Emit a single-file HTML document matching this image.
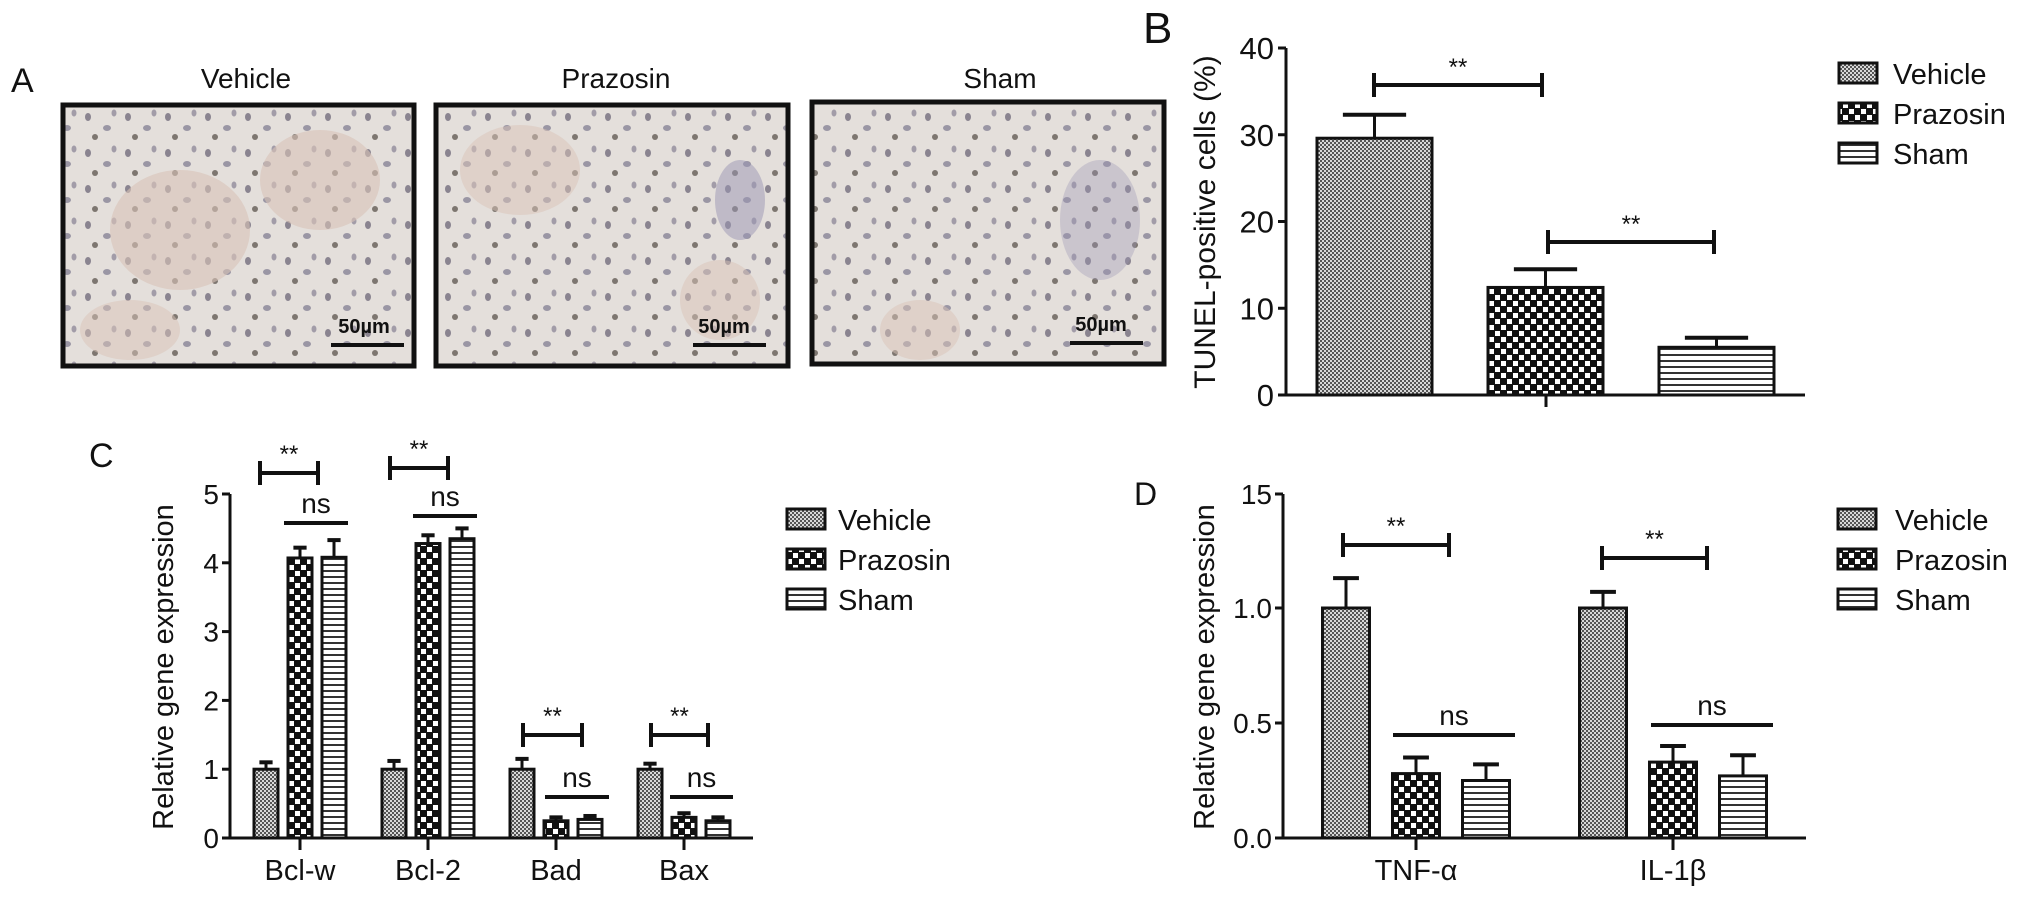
<!DOCTYPE html>
<html><head><meta charset="utf-8"><style>
html,body{margin:0;padding:0;background:#fff;}
svg{display:block;}
text{font-family:"Liberation Sans Narrow","Liberation Sans",sans-serif;fill:#111;}
</style></head><body>
<svg id="fig" width="2032" height="898" viewBox="0 0 2032 898" xmlns="http://www.w3.org/2000/svg">
<defs>
<pattern id="pVeh" width="4" height="4" patternUnits="userSpaceOnUse"><rect width="4" height="4" fill="#d8d8d8"/><rect width="2" height="2" fill="#555"/><rect x="2" y="2" width="2" height="2" fill="#555"/></pattern>
<pattern id="pPra" width="12" height="12" patternUnits="userSpaceOnUse"><rect width="12" height="12" fill="#111"/><rect x="1" y="1" width="5" height="5" fill="#fff"/><rect x="7" y="7" width="5" height="5" fill="#fff"/></pattern>
<pattern id="pSha" width="6" height="6" patternUnits="userSpaceOnUse"><rect width="6" height="6" fill="#fff"/><rect y="0" width="6" height="2" fill="#333"/></pattern>
<pattern id="tissue" width="40" height="36" patternUnits="userSpaceOnUse"><rect width="40" height="36" fill="#e4dfdb"/><ellipse cx="8" cy="9" rx="3" ry="4" fill="#8a8490"/><ellipse cx="27" cy="20" rx="4" ry="3" fill="#9a96a4"/><ellipse cx="15" cy="29" rx="3" ry="3" fill="#7d7670"/><ellipse cx="34" cy="5" rx="2.5" ry="3.5" fill="#a29ca8"/></pattern>
</defs>
<g id="panelA">
<text x="11" y="92" font-size="34">A</text>
<text x="246" y="88" font-size="28" text-anchor="middle">Vehicle</text>
<text x="616" y="88" font-size="28" text-anchor="middle">Prazosin</text>
<text x="1000" y="88" font-size="28" text-anchor="middle">Sham</text>
<g>
<rect x="63" y="105" width="351" height="261" fill="url(#tissue)"/>
<ellipse cx="180" cy="230" rx="70" ry="60" fill="#d9c3b8" opacity="0.6"/><ellipse cx="320" cy="180" rx="60" ry="50" fill="#d9c3b8" opacity="0.6"/><ellipse cx="130" cy="330" rx="50" ry="30" fill="#d9c3b8" opacity="0.5"/>
<rect x="63" y="105" width="351" height="261" fill="none" stroke="#111" stroke-width="5"/>
<text x="364" y="333" font-size="20" font-weight="bold" text-anchor="middle">50µm</text>
<rect x="331" y="343" width="73" height="4" fill="#111"/>
</g>
<g>
<rect x="436" y="105" width="352" height="261" fill="url(#tissue)"/>
<ellipse cx="520" cy="170" rx="60" ry="45" fill="#d9c3b8" opacity="0.5"/><ellipse cx="720" cy="300" rx="40" ry="40" fill="#d9c3b8" opacity="0.5"/><ellipse cx="740" cy="200" rx="25" ry="40" fill="#9a96b4" opacity="0.5"/>
<rect x="436" y="105" width="352" height="261" fill="none" stroke="#111" stroke-width="5"/>
<text x="724" y="333" font-size="20" font-weight="bold" text-anchor="middle">50µm</text>
<rect x="693" y="343" width="73" height="4" fill="#111"/>
</g>
<g>
<rect x="812" y="102" width="352" height="262" fill="url(#tissue)"/>
<ellipse cx="920" cy="330" rx="40" ry="30" fill="#d9c3b8" opacity="0.5"/><ellipse cx="1100" cy="220" rx="40" ry="60" fill="#9a96b4" opacity="0.35"/>
<rect x="812" y="102" width="352" height="262" fill="none" stroke="#111" stroke-width="5"/>
<text x="1101" y="331" font-size="20" font-weight="bold" text-anchor="middle">50µm</text>
<rect x="1070" y="341" width="73" height="4" fill="#111"/>
</g>
</g>
<text x="1143" y="43" font-size="44">B</text>
<text x="89" y="467" font-size="34">C</text>
<text x="1134" y="505" font-size="32">D</text>
</svg>
<script>
// ---- Panel B data ----
const bCategories = ["Vehicle", "Prazosin", "Sham"];
const bValues = [29.6, 12.4, 5.5];
const bErrors = [2.7, 2.1, 1.1];
const bTicks = [0, 10, 20, 30, 40];
// ---- Panel C data ----
const cCategories = ["Bcl-w", "Bcl-2", "Bad", "Bax"];
const cVehicle = [1.0, 1.0, 1.0, 1.0];
const cPrazosin = [4.07, 4.28, 0.25, 0.30];
const cSham = [4.08, 4.35, 0.27, 0.25];
const cVehicleErr = [0.1, 0.12, 0.15, 0.08];
const cPrazosinErr = [0.15, 0.12, 0.05, 0.06];
const cShamErr = [0.25, 0.15, 0.05, 0.05];
const cTicks = [0, 1, 2, 3, 4, 5];
// ---- Panel D data ----
const dCategories = ["TNF-α", "IL-1β"];
const dVehicle = [1.0, 1.0];
const dPrazosin = [0.28, 0.33];
const dSham = [0.25, 0.27];
const dVehicleErr = [0.13, 0.07];
const dPrazosinErr = [0.07, 0.07];
const dShamErr = [0.07, 0.09];
const dTicks = ["0.0", "0.5", "1.0", "15"];

const seriesNames = ["Vehicle", "Prazosin", "Sham"];
const fills = ["url(#pVeh)", "url(#pPra)", "url(#pSha)"];
const NS = "http://www.w3.org/2000/svg";
const svg = document.getElementById("fig");
function mk(tag, attrs, parent) {
  const e = document.createElementNS(NS, tag);
  for (const k in attrs) e.setAttribute(k, attrs[k]);
  (parent || svg).appendChild(e);
  return e;
}
function txt(s, attrs, parent) { const t = mk("text", attrs, parent); t.textContent = s; return t; }
function line(x1, y1, x2, y2, w, parent) { return mk("line", {x1, y1, x2, y2, stroke: "#111", "stroke-width": w || 3}, parent); }

function bar(g, x, w, yTop, yBase, fill, yErr, name) {
  const r = mk("rect", {x: x, y: yTop, width: w, height: yBase - yTop, fill: fill, stroke: "#111", "stroke-width": 3}, g);
  
  
  const cw = w * 0.55;
  const e1 = line(x + w / 2, yTop, x + w / 2, yErr, 3, g);
  
  
  const e2 = line(x + w / 2 - cw / 2, yErr, x + w / 2 + cw / 2, yErr, 4, g);
  
  
}
function bracket(g, x1, x2, y, label, ly, name) {
  const gg = mk("g", {}, g);
  
  
  line(x1, y, x2, y, 4, gg);
  line(x1, y - 12, x1, y + 12, 4, gg);
  line(x2, y - 12, x2, y + 12, 4, gg);
  txt(label, {x: (x1 + x2) / 2, y: ly, "font-size": 24, "text-anchor": "middle"}, gg);
}
function nsLine(g, x1, x2, y, name) {
  const gg = mk("g", {}, g);
  
  
  line(x1, y, x2, y, 4, gg);
  txt("ns", {x: (x1 + x2) / 2, y: y - 10, "font-size": 28, "text-anchor": "middle"}, gg);
}
function legend(g, x, y0, dy, tx) {
  seriesNames.forEach((n, i) => {
    const lg = mk("g", {}, g);
    
    
    mk("rect", {x: x, y: y0 + i * dy - 10, width: 38, height: 20, fill: fills[i], stroke: "#111", "stroke-width": 3}, lg);
    txt(n, {x: tx, y: y0 + i * dy + 11, "font-size": 29}, lg);
  });
}

// ---------- Panel B ----------
(function () {
  const g = mk("g", {});
  
  
  const y0 = 395, yTopPx = 48, vmax = 40;
  const ys = v => y0 - (v / vmax) * (y0 - yTopPx);
  const ax = 1286;
  const yAxis = line(ax, yTopPx, ax, y0, 3, g);
  
  
  bTicks.forEach(t => {
    line(ax - 8, ys(t), ax, ys(t), 3, g);
    const tl = txt(String(t), {x: ax - 12, y: ys(t) + 11, "font-size": 31, "text-anchor": "end"}, g);
    
    
  });
  const xAxis = line(1278, y0, 1805, y0, 3, g);
  
  
  line(1546, y0, 1546, 407, 3, g);
  const yt = txt("TUNEL-positive cells (%)", {x: 0, y: 0, "font-size": 30, "text-anchor": "middle", transform: "translate(1215,222) rotate(-90)"}, g);
  
  
  const x0 = 1317, step = 171, w = 115;
  bCategories.forEach((c, i) => {
    bar(g, x0 + i * step, w, ys(bValues[i]), y0, fills[i], ys(bValues[i] + bErrors[i]), 'bar-' + c.toLowerCase());
  });
  bracket(g, 1374, 1542, 85, "**", 75, 'sig-vehicle-prazosin');
  bracket(g, 1548, 1714, 242, "**", 232, 'sig-prazosin-sham');
  legend(g, 1839, 73, 40, 1893);
})();

// ---------- Grouped panels ----------
function grouped(opts) {
  const g = mk("g", {});
  
  
  const y0 = 838;
  const yAxis = line(opts.ax, opts.yTop, opts.ax, y0, 3, g);
  
  
  opts.ticks.forEach((t, i) => {
    const yy = opts.tickY(t, i);
    line(opts.ax - 8, yy, opts.ax, yy, 3, g);
    const tl = txt(String(t), {x: opts.ax - 11, y: yy + 10, "font-size": 28, "text-anchor": "end"}, g);
    
    
  });
  const xAxis = line(opts.xStart, y0, opts.xEnd, y0, 3, g);
  
  
  const yt = txt("Relative gene expression", {x: 0, y: 0, "font-size": 29, "text-anchor": "middle", transform: "translate(" + opts.titleX + ",667) rotate(-90)"}, g);
  
  
  opts.cats.forEach((c, i) => {
    const cx = opts.c0 + i * opts.gstep;
    line(cx, y0, cx, 850, 3, g);
    const cl = txt(c, {x: cx, y: 880, "font-size": 29, "text-anchor": "middle"}, g);
    
    
    opts.series.forEach((s, j) => {
      const bx = cx + (j - 1) * opts.bstep - opts.bw / 2;
      bar(g, bx, opts.bw, opts.ys(s[i]), y0, fills[j], opts.ys(s[i] + opts.errs[j][i]), 'bar-' + c.toLowerCase() + '-' + seriesNames[j].toLowerCase());
    });
  });
  return g;
}

const gC = grouped({
  name: 'panel-c-chart', ax: 230, yTop: 494, xStart: 223, xEnd: 753, titleX: 173,
  ticks: cTicks, tickY: (t) => 838 - t * 68.8, ys: v => 838 - v * 68.8,
  cats: cCategories, c0: 300, gstep: 128, bstep: 34, bw: 24,
  series: [cVehicle, cPrazosin, cSham], errs: [cVehicleErr, cPrazosinErr, cShamErr]
});
bracket(gC, 260, 318, 473, "**", 462, 'sig-bclw');
nsLine(gC, 284, 348, 523, 'ns-bclw');
bracket(gC, 390, 448, 468, "**", 457, 'sig-bcl2');
nsLine(gC, 413, 477, 516, 'ns-bcl2');
bracket(gC, 523, 582, 735, "**", 724, 'sig-bad');
nsLine(gC, 545, 609, 797, 'ns-bad');
bracket(gC, 651, 708, 735, "**", 724, 'sig-bax');
nsLine(gC, 670, 733, 797, 'ns-bax');
legend(gC, 787, 519, 40, 838);

const gD = grouped({
  name: 'panel-d-chart', ax: 1283, yTop: 494, xStart: 1276, xEnd: 1806, titleX: 1214,
  ticks: dTicks, tickY: (t) => (t === "15" ? 494 : 838 - parseFloat(t) * 230), ys: v => 838 - v * 230,
  cats: dCategories, c0: 1416, gstep: 257, bstep: 70, bw: 47,
  series: [dVehicle, dPrazosin, dSham], errs: [dVehicleErr, dPrazosinErr, dShamErr]
});
bracket(gD, 1343, 1449, 545, "**", 534, 'sig-tnf');
nsLine(gD, 1393, 1515, 735, 'ns-tnf');
bracket(gD, 1602, 1707, 558, "**", 547, 'sig-il1b');
nsLine(gD, 1651, 1773, 725, 'ns-il1b');
legend(gD, 1838, 519, 40, 1895);
</script>
</body></html>
